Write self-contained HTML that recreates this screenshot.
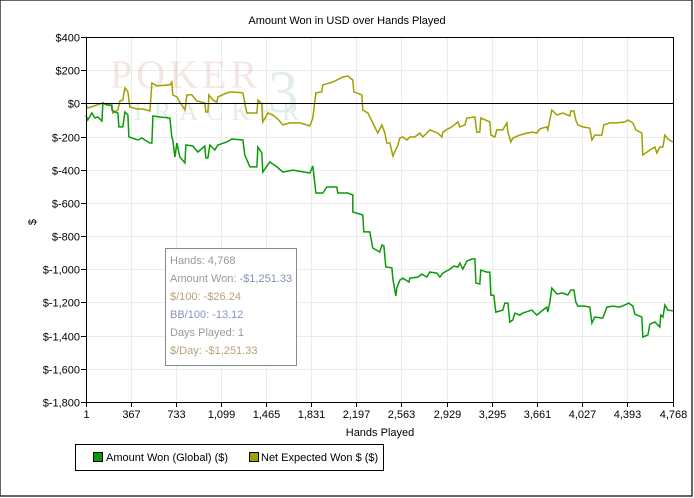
<!DOCTYPE html>
<html><head><meta charset="utf-8"><style>
body{margin:0;background:#fff;}
svg{display:block;font-family:"Liberation Sans",sans-serif;}
</style></head><body>
<svg id="chart" width="694" height="498">
<rect x="0" y="0" width="692" height="496" fill="#fff" stroke="#333" stroke-width="1.5"/>
<text x="347" y="24" font-size="11" text-anchor="middle">Amount Won in USD over Hands Played</text>
<g id="grid"></g>
<g opacity="0.13">
<text x="110" y="88" font-size="40" font-family="Liberation Serif,serif" fill="#c04040" letter-spacing="4">POKER</text>
<text x="130" y="120" font-size="26" font-family="Liberation Serif,serif" fill="#208040" letter-spacing="8">TRACKER</text>
<text x="268" y="112" font-size="60" font-family="Liberation Serif,serif" fill="#208040">3</text>
</g>
<g id="series"></g>
<g id="axes"></g>
<text x="380" y="436" font-size="11" text-anchor="middle">Hands Played</text>
<text x="36" y="222" font-size="11" text-anchor="middle" transform="rotate(-90 36 222)">$</text>
<g font-size="11">
<rect x="165.5" y="248.5" width="131" height="117" fill="#fff" stroke="#888"/>
<text x="170" y="264" fill="#999">Hands: 4,768</text>
<text x="170" y="282" fill="#999">Amount Won: <tspan fill="#7f93b8">-$1,251.33</tspan></text>
<text x="170" y="300" fill="#b8a07a">$/100: -$26.24</text>
<text x="170" y="318" fill="#8a93c0">BB/100: -13.12</text>
<text x="170" y="336" fill="#999">Days Played: 1</text>
<text x="170" y="354" fill="#b8a07a">$/Day: -$1,251.33</text>
</g>
<g font-size="11">
<rect x="75.5" y="444.5" width="308" height="26" fill="#fff" stroke="#000"/>
<g>
<rect x="93.5" y="452.5" width="9" height="9" fill="#0a9a0a" stroke="#000"/>
<text x="106" y="461">Amount Won (Global) ($)</text></g>
<g>
<rect x="249.5" y="452.5" width="9" height="9" fill="#a0a000" stroke="#000"/>
<text x="261" y="461">Net Expected Won $ ($)</text></g>
</g>
</svg>
<script>
const yTicks=[400,200,0,-200,-400,-600,-800,-1000,-1200,-1400,-1600,-1800];
const yTickLabels=["$400","$200","$0","$-200","$-400","$-600","$-800","$-1,000","$-1,200","$-1,400","$-1,600","$-1,800"];
const xTicks=[1,367,733,1099,1465,1831,2197,2563,2929,3295,3661,4027,4393,4768];
const xTickLabels=["1","367","733","1,099","1,465","1,831","2,197","2,563","2,929","3,295","3,661","4,027","4,393","4,768"];
const wonHands=[0,16,49,73,97,130,138,171,211,211,235,260,268,300,317,341,349,422,455,479,520,536,544,601,682,698,706,723,739,763,804,812,869,909,966,974,991,1007,1047,1072,1145,1186,1275,1291,1332,1389,1397,1429,1437,1494,1551,1600,1681,1819,1843,1868,1924,1957,2006,2038,2046,2127,2168,2168,2249,2257,2306,2330,2387,2404,2420,2436,2485,2493,2517,2525,2550,2574,2623,2631,2696,2728,2769,2793,2850,2875,2899,2956,2988,3021,3037,3061,3094,3134,3159,3167,3199,3207,3256,3280,3289,3313,3329,3386,3402,3427,3443,3467,3484,3524,3548,3622,3646,3662,3711,3743,3751,3768,3784,3825,3873,3914,3938,3963,3979,3995,4052,4092,4109,4133,4198,4231,4279,4336,4393,4409,4442,4458,4515,4523,4564,4580,4621,4661,4669,4686,4702,4726,4767];
const wonValues=[-70,-100,-58,-88,-82,-106,2,-10,-10,-40,-52,-58,-142,-142,-52,-70,-203,-221,-209,-221,-239,-239,-76,-82,-88,-203,-221,-323,-239,-323,-359,-251,-257,-293,-257,-329,-329,-251,-281,-251,-233,-215,-221,-311,-383,-383,-263,-299,-414,-353,-383,-414,-402,-420,-377,-540,-540,-504,-504,-504,-540,-540,-552,-655,-673,-775,-775,-872,-896,-854,-860,-986,-992,-1058,-1161,-1113,-1065,-1053,-1077,-1053,-1047,-1029,-1047,-1017,-1023,-1047,-1023,-999,-981,-987,-963,-999,-951,-938,-938,-1083,-1089,-1005,-1017,-1017,-1156,-1156,-1258,-1246,-1204,-1204,-1318,-1306,-1264,-1276,-1264,-1246,-1264,-1276,-1246,-1228,-1258,-1197,-1113,-1149,-1143,-1155,-1125,-1125,-1197,-1222,-1222,-1228,-1324,-1288,-1294,-1228,-1222,-1228,-1210,-1204,-1222,-1270,-1288,-1408,-1396,-1330,-1318,-1348,-1276,-1288,-1216,-1246,-1251];
const evHands=[0,16,138,211,219,260,276,300,317,341,357,414,463,520,536,577,682,698,706,739,763,804,820,861,901,966,974,991,999,1031,1064,1072,1145,1186,1275,1291,1307,1389,1397,1429,1437,1478,1518,1559,1600,1656,1738,1819,1843,1868,1916,1924,2006,2087,2127,2168,2176,2241,2249,2290,2330,2371,2404,2428,2444,2469,2493,2534,2550,2574,2607,2631,2671,2712,2736,2793,2858,2891,2899,2940,2972,3021,3037,3078,3094,3159,3175,3199,3207,3280,3289,3321,3337,3386,3419,3427,3451,3467,3524,3581,3630,3662,3686,3743,3751,3784,3825,3873,3930,3938,3963,3979,3995,4036,4092,4109,4133,4190,4206,4255,4312,4377,4401,4442,4466,4515,4523,4580,4621,4637,4661,4686,4702,4726,4767];
const evValues=[-10,-28,2,-16,-58,-40,14,20,93,69,-22,-34,-34,-46,123,105,111,129,51,39,8,-40,51,51,14,2,-52,-52,51,20,8,39,63,69,63,2,-58,-58,20,-4,-112,-58,-70,-94,-130,-118,-118,-136,-88,63,69,111,129,159,165,141,69,51,-40,-58,-118,-179,-130,-179,-239,-239,-317,-251,-209,-203,-221,-203,-203,-179,-203,-160,-179,-203,-173,-154,-142,-112,-142,-130,-88,-82,-173,-173,-88,-112,-191,-203,-160,-160,-118,-173,-233,-209,-191,-179,-173,-179,-154,-142,-160,-40,-70,-58,-76,-46,-46,-100,-130,-142,-149,-221,-191,-191,-130,-118,-118,-112,-100,-118,-160,-179,-311,-281,-263,-299,-263,-263,-191,-215,-233];

const L=86,R=673,T=37,B=402,xMin=1,xMax=4768,yMin=-1800,yMax=400;
const xs=h=>L+(h-xMin)/(xMax-xMin)*(R-L);
const ys=v=>T+(yMax-v)/(yMax-yMin)*(B-T);
const NS="http://www.w3.org/2000/svg";
function mk(tag,attrs,parent){const e=document.createElementNS(NS,tag);for(const k in attrs)e.setAttribute(k,attrs[k]);parent.appendChild(e);return e;}
const grid=document.getElementById('grid'),axes=document.getElementById('axes'),series=document.getElementById('series');
yTicks.forEach((v,i)=>{
  const y=Math.round(ys(v))+0.5;
  const g=mk('line',{x1:L,x2:R,y1:y,y2:y,stroke:'#ebebeb'},grid);
  
  
  const t=mk('line',{x1:L-5,x2:L,y1:y,y2:y,stroke:'#000'},axes);
  
  
  const tx=mk('text',{x:L-6,y:y+4,'font-size':11,'text-anchor':'end'},axes);
  tx.textContent=yTickLabels[i];
  
  
});
xTicks.forEach((h,i)=>{
  const x=Math.round(xs(h))+0.5;
  const g=mk('line',{x1:x,x2:x,y1:T,y2:B,stroke:'#ebebeb'},grid);
  
  
  const t=mk('line',{x1:x,x2:x,y1:B,y2:B+5,stroke:'#000'},axes);
  
  
  const tx=mk('text',{x:x,y:B+16,'font-size':11,'text-anchor':'middle'},axes);
  tx.textContent=xTickLabels[i];
  
  
});
const frame=mk('rect',{x:L+0.5,y:T+0.5,width:R-L,height:B-T,fill:'none',stroke:'#000'},axes);


const zl=mk('line',{x1:L,x2:R,y1:Math.round(ys(0))+0.5,y2:Math.round(ys(0))+0.5,stroke:'#000'},axes);


function path(hs,vs){return hs.map((h,i)=>(i?'L':'M')+xs(h).toFixed(1)+' '+ys(vs[i]).toFixed(1)).join(' ');}
const ev=mk('path',{d:path(evHands,evValues),fill:'none',stroke:'#a0a000','stroke-width':1.5},series);


const won=mk('path',{d:path(wonHands,wonValues),fill:'none',stroke:'#0a9a0a','stroke-width':1.5},series);


</script>
</body></html>
